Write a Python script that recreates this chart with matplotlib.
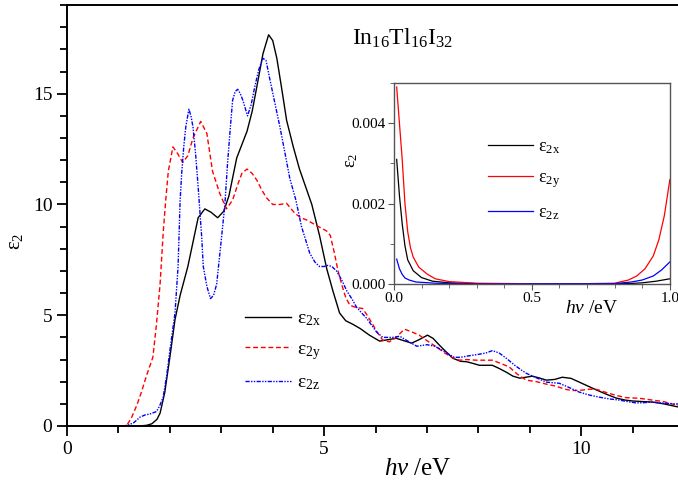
import matplotlib
matplotlib.use("Agg")
import matplotlib.pyplot as plt
from matplotlib.ticker import MultipleLocator

plt.rcParams['font.family'] = ['Liberation Serif', 'DejaVu Serif']
plt.rcParams['mathtext.fontset'] = 'custom'
plt.rcParams['mathtext.rm'] = 'Liberation Serif'
plt.rcParams['mathtext.it'] = 'Liberation Serif:italic'

# main spectrum
ex_x = [0, 1.4, 1.55, 1.65, 1.75, 1.81, 1.9, 2.0, 2.1, 2.2, 2.35, 2.45, 2.55, 2.68, 2.8, 2.93, 3.05, 3.15,
        3.3, 3.5, 3.6, 3.69, 3.81, 3.92, 4.0, 4.08, 4.17, 4.27, 4.4, 4.52, 4.64, 4.76, 4.91, 5.05, 5.17,
        5.3, 5.42, 5.55, 5.7, 5.88, 6.08, 6.25, 6.4, 6.55, 6.7, 6.85, 7.01, 7.12, 7.24, 7.37, 7.5, 7.65,
        7.77, 7.9, 8.02, 8.15, 8.27, 8.4, 8.54, 8.67, 8.8, 8.92, 9.05, 9.18, 9.32, 9.48, 9.63, 9.8, 9.96,
        10.13, 10.3, 10.5, 10.68, 10.85, 10.99, 11.2, 11.38, 11.6, 11.88]
ex_y = [0, 0, 0.03, 0.1, 0.3, 0.58, 1.5, 3.1, 4.8, 5.9, 7.2, 8.3, 9.4, 9.8, 9.65, 9.4, 9.7, 10.4,
        12.1, 13.3, 14.2, 15.3, 16.8, 17.66, 17.4, 16.6, 15.3, 13.8, 12.6, 11.6, 10.8, 10.0, 8.6, 7.1, 6.1,
        5.1, 4.75, 4.6, 4.4, 4.1, 3.83, 3.9, 3.96, 3.85, 3.74, 3.9, 4.1, 3.95, 3.65, 3.35, 3.06, 2.92,
        2.9, 2.82, 2.74, 2.74, 2.74, 2.6, 2.43, 2.25, 2.16, 2.2, 2.25, 2.17, 2.07, 2.1, 2.2, 2.15, 1.98,
        1.8, 1.62, 1.42, 1.26, 1.17, 1.13, 1.1, 1.08, 1.0, 0.86]

ey_x = [0, 1.1, 1.16, 1.25, 1.36, 1.45, 1.55, 1.61, 1.67, 1.74, 1.81, 1.87, 1.92, 1.97, 2.06, 2.15, 2.25,
        2.35, 2.45, 2.6, 2.72, 2.83, 2.97, 3.1, 3.22, 3.32, 3.4, 3.5, 3.6, 3.69, 3.8, 3.88, 4.0, 4.14,
        4.27, 4.43, 4.55, 4.66, 4.85, 5.05, 5.12, 5.2, 5.27, 5.34, 5.42, 5.5, 5.62, 5.75, 5.85, 5.94,
        6.04, 6.14, 6.27, 6.4, 6.56, 6.7, 6.85, 7.0, 7.18, 7.34, 7.5, 7.63, 7.77, 7.95, 8.15, 8.27,
        8.46, 8.6, 8.75, 8.93, 9.13, 9.3, 9.5, 9.7, 9.83, 10.02, 10.15, 10.3, 10.5, 10.68, 10.87,
        11.13, 11.38, 11.6, 11.88]
ey_y = [0, 0, 0.02, 0.35, 0.95, 1.55, 2.3, 2.7, 3.1, 4.6, 6.4, 8.7, 10.2, 11.5, 12.6, 12.3, 11.9,
        12.2, 13.0, 13.75, 13.2, 11.5, 10.5, 9.8, 10.2, 10.9, 11.4, 11.6, 11.4, 11.1, 10.6, 10.3, 10.0, 10.0,
        10.05, 9.6, 9.4, 9.3, 9.05, 8.8, 8.6, 7.8, 7.0, 6.4, 5.8, 5.45, 5.35, 5.3, 4.95, 4.6,
        4.2, 3.87, 3.8, 4.0, 4.37, 4.25, 4.1, 3.85, 3.57, 3.3, 3.08, 2.97, 3.0, 2.97, 2.97, 2.97,
        2.8, 2.66, 2.35, 2.07, 2.0, 1.9, 1.8, 1.65, 1.6, 1.62, 1.66, 1.65, 1.5, 1.38, 1.28,
        1.25, 1.17, 1.1, 0.92]

ez_x = [0, 1.1, 1.2, 1.3, 1.42, 1.52, 1.61, 1.74, 1.8, 1.87, 1.94, 2.0, 2.1, 2.16, 2.2, 2.23, 2.27, 2.31,
        2.37, 2.41, 2.45, 2.5, 2.55, 2.62, 2.65, 2.72, 2.79, 2.85, 2.91, 3.0, 3.07, 3.12, 3.17, 3.22,
        3.27, 3.32, 3.37, 3.42, 3.51, 3.58, 3.65, 3.73, 3.81, 3.87, 3.94, 4.04, 4.14, 4.24, 4.33, 4.45,
        4.56, 4.64, 4.72, 4.82, 4.91, 5.0, 5.07, 5.15, 5.24, 5.34, 5.44, 5.55, 5.63, 5.73, 5.83, 6.02,
        6.14, 6.33, 6.47, 6.6, 6.8, 7.0, 7.15, 7.3, 7.45, 7.53, 7.65, 7.77, 7.9, 8.02, 8.15, 8.27, 8.4,
        8.54, 8.7, 8.85, 8.93, 9.05, 9.2, 9.32, 9.45, 9.57, 9.75, 9.96, 10.15, 10.35, 10.55, 10.74,
        10.9, 11.07, 11.2, 11.38, 11.6, 11.88]
ez_y = [0, 0, 0.05, 0.15, 0.4, 0.5, 0.54, 0.65, 0.9, 1.3, 2.3, 3.4, 5.1, 7.2, 10.2, 11.4, 12.6, 13.5,
        14.3, 14.0, 13.5, 12.3, 10.8, 8.5, 7.2, 6.3, 5.75, 5.9, 6.4, 8.4, 10.0, 11.8, 13.3, 14.7,
        15.1, 15.2, 15.0, 14.7, 14.0, 14.5, 15.3, 16.1, 16.6, 16.5, 15.7, 14.6, 13.5, 12.3, 11.2, 10.2,
        9.0, 8.4, 7.8, 7.4, 7.2, 7.2, 7.25, 7.2, 7.0, 6.6, 6.1, 5.7, 5.36, 5.1, 4.85, 4.24,
        4.0, 4.0, 4.05, 3.87, 3.6, 3.67, 3.6, 3.42, 3.2, 3.1, 3.1, 3.15, 3.2, 3.24, 3.3, 3.4, 3.3,
        3.06, 2.75, 2.5, 2.38, 2.25, 2.1, 1.98, 1.95, 1.93, 1.75, 1.53, 1.4, 1.3, 1.22, 1.17,
        1.1, 1.04, 1.05, 1.08, 1.03, 0.99]

# inset, low-energy part
ix_x = [0.01, 0.02, 0.03, 0.04, 0.05, 0.07, 0.1, 0.14, 0.2, 0.3, 0.6, 0.85, 0.9, 0.95, 1.0]
ix_y = [0.0031, 0.0022, 0.0015, 0.00095, 0.0006, 0.00033, 0.00016, 0.00007, 0.00003, 0.00001, 0,
        0.00001, 0.00003, 0.00007, 0.00013]
iy_x = [0.01, 0.02, 0.03, 0.04, 0.05, 0.06, 0.07, 0.09, 0.12, 0.15, 0.2, 0.3, 0.6, 0.8, 0.85, 0.88,
        0.91, 0.94, 0.96, 0.98, 1.0]
iy_y = [0.0049, 0.0040, 0.0031, 0.0020, 0.0013, 0.0009, 0.00067, 0.00042, 0.00025, 0.00013, 0.00006,
        0.00002, 0, 0.00002, 0.0001, 0.0002, 0.00038, 0.0007, 0.0011, 0.0017, 0.0026]
iz_x = [0.01, 0.015, 0.02, 0.03, 0.04, 0.055, 0.08, 0.15, 0.3, 0.8, 0.86, 0.9, 0.94, 0.97, 1.0]
iz_y = [0.00062, 0.0005, 0.00038, 0.00024, 0.00015, 0.0001, 0.00005, 0.00002, 0, 0.00001, 0.00005,
        0.0001, 0.0002, 0.00035, 0.00055]

labels = ['ε$_{\\rm 2x}$', 'ε$_{\\rm 2y}$', 'ε$_{\\rm 2z}$']

fig = plt.figure(figsize=(6.78, 4.86), dpi=100)
ax = fig.add_axes([0.0988, 0.1235, 0.9012, 0.866])
ax.plot(ex_x, ex_y, color='black', lw=1.0, label=labels[0])
ax.plot(ey_x, ey_y, color='red', lw=1.0, ls=(0, (3.5, 2)), label=labels[1])
ax.plot(ez_x, ez_y, color='blue', lw=1.0, ls=(0, (3, 1, 1, 1, 1, 1)), label=labels[2])
ax.set_xlim(0, 11.88)
ax.set_ylim(0, 19)
ax.xaxis.set_major_locator(MultipleLocator(5))
ax.xaxis.set_minor_locator(MultipleLocator(1))
ax.yaxis.set_major_locator(MultipleLocator(5))
ax.yaxis.set_minor_locator(MultipleLocator(1))
ax.tick_params(which='both', direction='out', labelsize=14, width=1.3, top=False, right=False)
ax.tick_params(which='major', length=7)
ax.tick_params(which='minor', length=5)
ax.spines['right'].set_visible(False)
for s in ['left', 'bottom', 'top']:
    ax.spines[s].set_linewidth(1.4)
ax.set_xlabel('$h\\nu$ /eV', fontsize=18)
ax.xaxis.set_label_coords(0.575, -0.076)
ax.set_ylabel('ε$_2$', fontsize=15)
ax.yaxis.set_label_coords(-0.069, 0.44)
ax.legend(loc='upper left', bbox_to_anchor=(0.262, 0.317), frameon=False, fontsize=14,
          handlelength=2.4, handletextpad=0.3, labelspacing=0.63)
ax.text(0.466, 0.905, 'In$_{16}$Tl$_{16}$I$_{32}$', transform=ax.transAxes, fontsize=17)

ins = fig.add_axes([0.581, 0.4156, 0.407, 0.4136])
ins.plot(ix_x, ix_y, color='black', lw=0.9, label=labels[0])
ins.plot(iy_x, iy_y, color='red', lw=0.9, label=labels[1])
ins.plot(iz_x, iz_y, color='blue', lw=0.9, label=labels[2])
ins.set_xlim(0, 1)
ins.set_ylim(0, 0.005)
ins.xaxis.set_major_locator(MultipleLocator(0.5))
ins.xaxis.set_minor_locator(MultipleLocator(0.1))
ins.yaxis.set_major_locator(MultipleLocator(0.002))
ins.yaxis.set_minor_locator(MultipleLocator(0.001))
ins.xaxis.set_major_formatter(plt.FormatStrFormatter('%.1f'))
ins.yaxis.set_major_formatter(plt.FormatStrFormatter('%.3f'))
ins.tick_params(which='both', direction='out', labelsize=11, color='#555555', pad=2)
ins.tick_params(which='major', length=4)
ins.tick_params(which='minor', length=3)
for s in ins.spines.values():
    s.set_color('#555555')
    s.set_linewidth(1.0)
ins.set_xlabel('$h\\nu$ /eV', fontsize=14)
ins.xaxis.set_label_coords(0.717, -0.08)
ins.set_ylabel('ε$_2$', fontsize=13)
ins.yaxis.set_label_coords(-0.123, 0.617)
ins.legend(loc='upper left', bbox_to_anchor=(0.282, 0.805), frameon=False, fontsize=13,
           handlelength=2.5, handletextpad=0.25, labelspacing=0.75)

fig.savefig('out.png', dpi=100)
